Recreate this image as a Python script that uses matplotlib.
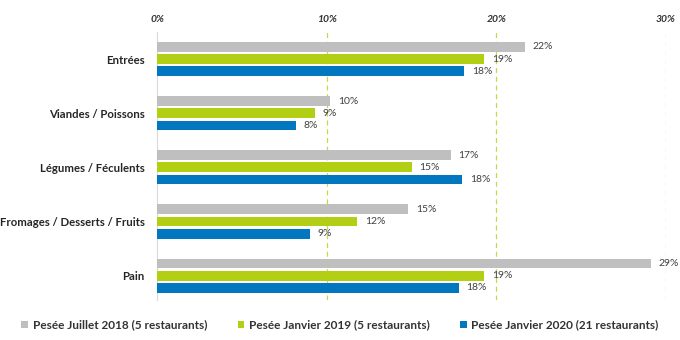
import matplotlib
matplotlib.use("Agg")
import matplotlib.pyplot as plt
from matplotlib.patches import Patch
import numpy as np

plt.rcParams['font.family'] = ['Lato', 'DejaVu Sans']

categories = ["Entrées", "Viandes / Poissons", "Légumes / Féculents",
              "Fromages / Desserts / Fruits", "Pain"]
series_names = ["Pesée Juillet 2018 (5 restaurants)",
                "Pesée Janvier 2019 (5 restaurants)",
                "Pesée Janvier 2020 (21 restaurants)"]
juillet_2018 = [21.7, 10.2, 17.3, 14.8, 29.1]
janvier_2019 = [19.3, 9.3, 15.0, 11.8, 19.3]
janvier_2020 = [18.1, 8.2, 18.0, 9.0, 17.8]
labels_2018 = ["22%", "10%", "17%", "15%", "29%"]
labels_2019 = ["19%", "9%", "15%", "12%", "19%"]
labels_2020 = ["18%", "8%", "18%", "9%", "18%"]
xticks = [0, 10, 20, 30]
xtick_labels = ["0%", "10%", "20%", "30%"]

colors = ["#BFBFBF", "#B2CF14", "#0077BE"]

fig = plt.figure(figsize=(6.8, 3.4), dpi=100)
ax = fig.add_axes([157/680, 1-300/340, (666-157)/680, (300-32)/340])

y = np.arange(len(categories))
pitch = 0.225
h = 0.18
data = [juillet_2018, janvier_2019, janvier_2020]
labs = [labels_2018, labels_2019, labels_2020]
for i, (vals, lab, c) in enumerate(zip(data, labs, colors)):
    pos = y + (i - 1) * pitch
    ax.barh(pos, vals, height=h, color=c, zorder=3)
    for p, v, t in zip(pos, vals, lab):
        ax.text(v + 0.45, p, t, va='center', ha='left', fontsize=7.5,
                color='#404040', zorder=4)

ax.set_xlim(0, 30)
ax.set_ylim(4.45, -0.5)
ax.set_yticks(y)
ax.set_yticklabels(categories, fontsize=8.2, fontweight='bold', color='#262626')
ax.tick_params(axis='y', length=0, pad=9)
ax.xaxis.tick_top()
ax.set_xticks(xticks)
ax.set_xticklabels(xtick_labels, fontsize=7.5, fontweight='bold', style='italic', color='#333333')
ax.tick_params(axis='x', length=0, pad=6)
for s in ['top', 'right', 'bottom']:
    ax.spines[s].set_visible(False)
ax.spines['left'].set_color('#D9D9D9')
ax.spines['left'].set_linewidth(0.8)
for xv in xticks[1:]:
    ax.axvline(xv, color='#C5D84A', linestyle=(0, (4, 3)), linewidth=0.9, zorder=1)

handles = [Patch(facecolor=c, edgecolor='none') for c in colors]
fig.legend(handles, series_names, loc='center', bbox_to_anchor=(0.5, 1-325/340),
           ncol=3, frameon=False, handlelength=0.55, handleheight=0.55,
           handletextpad=0.4, columnspacing=2.6,
           prop={'weight': 'bold', 'size': 8.5})
for t in fig.legends[0].get_texts():
    t.set_color('#333333')

fig.savefig("out.png", dpi=100)
